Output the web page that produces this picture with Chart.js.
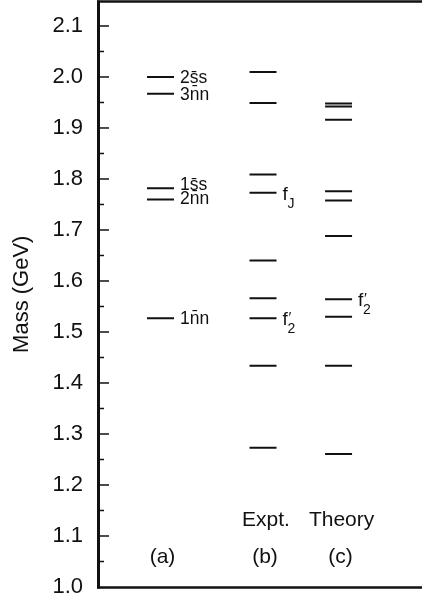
<!DOCTYPE html>
<html>
<head>
<meta charset="utf-8">
<script src="https://cdn.jsdelivr.net/npm/chart.js@4"></script>
<style>
  html, body { margin: 0; padding: 0; background: #fff; }
  #wrap { width: 422px; height: 603px; position: relative; }
</style>
</head>
<body>
<div id="wrap"><canvas id="c"></canvas></div>
<script>
// ---- data ----
const columnNames = ['(a)', '(b)', '(c)'];
const columnTitles = ['', 'Expt.', 'Theory'];
const levelsA = [2.000, 1.967, 1.782, 1.760, 1.527];
const labelsA = ['2s\u0304s', '3n\u0304n', '1s\u0304s', '2n\u0304n', '1n\u0304n'];
const levelsB = [2.010, 1.949, 1.809, 1.773, 1.640, 1.566, 1.527, 1.434, 1.273];
const labelsB = ['', '', '', 'f_J', '', '', "f_2'", '', ''];
const levelsC = [1.948, 1.942, 1.916, 1.776, 1.758, 1.688, 1.564, 1.530, 1.434, 1.261];
const labelsC = ['', '', '', '', '', '', "f_2'", '', '', ''];
const yTickLabels = ['1.0', '1.1', '1.2', '1.3', '1.4', '1.5', '1.6', '1.7', '1.8', '1.9', '2.0', '2.1'];
const yTitle = 'Mass (GeV)';

// ---- layout (not data) ----
const columnSlots = [0, 1, 1.737];
const labelNudge = { '1s\u0304s': -4, '2n\u0304n': -1 };
const INK = '#111';
const FONT = '"Liberation Sans", Arial, Helvetica, sans-serif';
Chart.defaults.font.family = FONT;

const allLevels = [levelsA, levelsB, levelsC];
const allLabels = [labelsA, labelsB, labelsC];

const datasets = allLevels.map((lv, i) => ({
  label: columnNames[i],
  data: lv.map(v => ({ x: columnSlots[i], y: v })),
  pointStyle: 'line',
  pointRadius: 13.5,
  pointHoverRadius: 13.5,
  pointBorderWidth: 2,
  borderColor: INK,
  backgroundColor: INK,
  showLine: false
}));

const framePlugin = {
  id: 'frame',
  afterDraw(chart) {
    const { ctx, chartArea: a } = chart;
    const y = chart.scales.y;
    ctx.save();
    ctx.strokeStyle = INK;
    ctx.lineCap = 'butt';
    ctx.lineWidth = 3;
    ctx.beginPath(); ctx.moveTo(a.left - 0.5, a.top - 1); ctx.lineTo(a.left - 0.5, a.bottom + 1.5); ctx.stroke();
    ctx.lineWidth = 2.5;
    ctx.beginPath(); ctx.moveTo(a.left - 2, a.top); ctx.lineTo(a.right, a.top); ctx.stroke();
    ctx.beginPath(); ctx.moveTo(a.left - 2, a.bottom + 0.5); ctx.lineTo(a.right, a.bottom + 0.5); ctx.stroke();
    const majors = yTickLabels.map(Number);
    ctx.lineWidth = 1.5;
    majors.forEach((v, k) => {
      const py = y.getPixelForValue(v);
      if (k > 0) {
        ctx.beginPath(); ctx.moveTo(a.left, py); ctx.lineTo(a.left + 10, py); ctx.stroke();
      }
      const mid = v + 0.05;
      if (mid < y.max) {
        const pm = y.getPixelForValue(mid);
        ctx.beginPath(); ctx.moveTo(a.left, pm); ctx.lineTo(a.left + 5, pm); ctx.stroke();
      }
    });
    ctx.restore();
  }
};

const labelPlugin = {
  id: 'levelLabels',
  afterDatasetsDraw(chart) {
    const { ctx, chartArea: a } = chart;
    const xs = chart.scales.x, ys = chart.scales.y;
    ctx.save();
    ctx.fillStyle = INK;
    ctx.textBaseline = 'alphabetic';
    allLevels.forEach((lv, i) => {
      const cx = xs.getPixelForValue(columnSlots[i]);
      lv.forEach((v, j) => {
        const lab = allLabels[i][j];
        if (!lab) return;
        const py = ys.getPixelForValue(v);
        const x0 = cx + 13.5 + 6;
        ctx.textAlign = 'left';
        if (lab.startsWith('f_')) {
          ctx.font = '19px ' + FONT;
          ctx.fillText('f', x0, py + 7);
          const sub = lab.charAt(2);
          ctx.font = '14px ' + FONT;
          ctx.fillText(sub, x0 + 5, py + 15);
          if (lab.endsWith("'")) {
            ctx.font = '15px ' + FONT;
            ctx.fillText('\u2032', x0 + 6, py + 4);
          }
        } else {
          ctx.font = '17.5px ' + FONT;
          ctx.fillText(lab, x0, py + 6 + (labelNudge[lab] || 0));
        }
      });
      ctx.textAlign = 'center';
      ctx.font = '21px ' + FONT;
      if (columnTitles[i]) ctx.fillText(columnTitles[i], cx + 3, a.bottom - 61);
      ctx.fillText(columnNames[i], cx + 2, a.bottom - 24);
    });
    ctx.restore();
  }
};

new Chart(document.getElementById('c'), {
  type: 'scatter',
  data: { datasets },
  options: {
    responsive: true,
    maintainAspectRatio: false,
    animation: false,
    events: [],
    layout: { autoPadding: false, padding: { top: 1.5, bottom: 16, left: 0, right: 0 } },
    plugins: { legend: { display: false }, tooltip: { enabled: false } },
    scales: {
      x: { type: 'linear', display: false, min: -0.6, max: 2.551 },
      y: {
        type: 'linear',
        min: 1.0,
        max: 2.148,
        afterBuildTicks(s) { s.ticks = yTickLabels.map(t => ({ value: Number(t) })); },
        afterFit(s) { s.width = 99; s.paddingTop = 0; s.paddingBottom = 0; },
        grid: { display: false, drawTicks: false },
        border: { display: false },
        ticks: {
          padding: 16,
          color: INK,
          font: { size: 22 },
          callback: (v) => yTickLabels.find(t => Number(t) === v) ?? ''
        },
        title: {
          display: true,
          text: yTitle,
          color: INK,
          font: { size: 22 },
          padding: { top: 9, bottom: 0 }
        }
      }
    }
  },
  plugins: [framePlugin, labelPlugin]
});
</script>
</body>
</html>
